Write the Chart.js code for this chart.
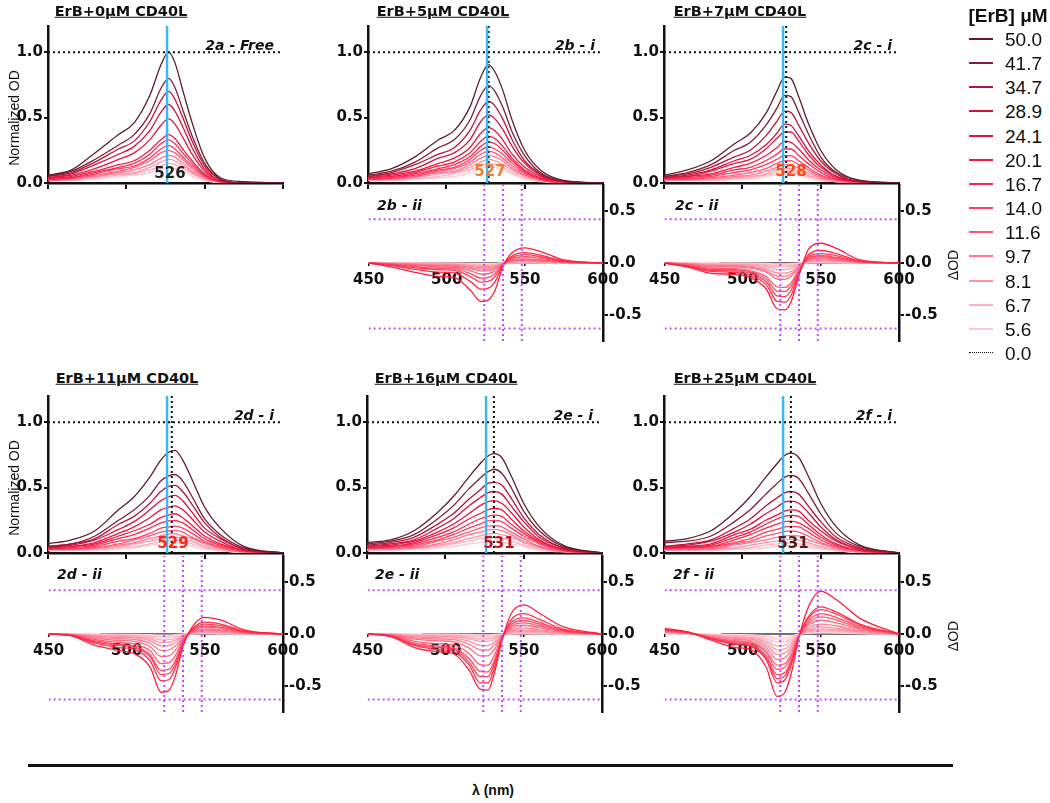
<!DOCTYPE html>
<html><head><meta charset="utf-8">
<script src="https://cdn.jsdelivr.net/npm/chart.js@4.4.0/dist/chart.umd.min.js"></script>
<style>
body{margin:0;background:#fff;}
#root{position:relative;width:1050px;height:803px;overflow:hidden;font-family:"DejaVu Sans",sans-serif;color:#111;}
canvas{position:absolute;}
.t{position:absolute;white-space:nowrap;line-height:1;}
</style></head><body><div id="root"></div>
<script>
// ---------------- DATA ----------------
const wavelengths = [450,465,480,495,505,515,522,527,531,536,542,550,560,575,600];
const concentrations = ['50.0','41.7','34.7','28.9','24.1','20.1','16.7','14.0','11.6','9.7','8.1','6.7','5.6'];
const zeroLabel = '0.0';
const panelTitles = ['ErB+0\u03bcM CD40L','ErB+5\u03bcM CD40L','ErB+7\u03bcM CD40L','ErB+11\u03bcM CD40L','ErB+16\u03bcM CD40L','ErB+25\u03bcM CD40L'];
const panelTags = ['2a - Free','2b - i','2c - i','2d - i','2e - i','2f - i'];
const diffTags = ['2b - ii','2c - ii','2d - ii','2e - ii','2f - ii'];
const freePeak = 526;
const peaks = [526,527,528,529,531,531];
const peakLabels = ['526','527','528','529','531','531'];
const diffMarks = [524,536,548];
const diffLevels = [0.42,-0.63];
const zeroStart = [450,485,483,485,486];
const topYTicks = [0,0.5,1.0];
const diffYTicks = [-0.5,0,0.5];
const xTicks = [450,500,550,600];

const od2a = [
[0.06,0.10,0.23,0.37,0.46,0.67,0.90,1.00,0.92,0.71,0.46,0.19,0.04,0.01,0],
[0.05,0.09,0.18,0.29,0.37,0.53,0.72,0.80,0.73,0.56,0.36,0.15,0.03,0,0],
[0.05,0.08,0.16,0.26,0.32,0.47,0.63,0.70,0.64,0.50,0.32,0.13,0.03,0,0],
[0.04,0.07,0.14,0.22,0.28,0.40,0.54,0.60,0.55,0.43,0.27,0.11,0.02,0,0],
[0.04,0.06,0.11,0.18,0.23,0.33,0.44,0.49,0.45,0.35,0.22,0.09,0.02,0,0],
[0.03,0.05,0.09,0.14,0.17,0.25,0.33,0.37,0.34,0.26,0.17,0.07,0.01,0,0],
[0.03,0.04,0.08,0.12,0.15,0.22,0.30,0.33,0.30,0.23,0.15,0.06,0.01,0,0],
[0.03,0.04,0.07,0.11,0.13,0.19,0.26,0.285,0.26,0.20,0.13,0.05,0.01,0,0],
[0.02,0.03,0.06,0.09,0.12,0.17,0.23,0.25,0.23,0.18,0.11,0.05,0.01,0,0],
[0.02,0.03,0.05,0.08,0.10,0.14,0.19,0.21,0.20,0.15,0.09,0.04,0.01,0,0],
[0.02,0.03,0.05,0.07,0.08,0.12,0.16,0.18,0.17,0.13,0.08,0.03,0.01,0,0],
[0.02,0.02,0.04,0.06,0.07,0.10,0.13,0.15,0.14,0.11,0.07,0.03,0.01,0,0],
[0.02,0.02,0.03,0.05,0.06,0.08,0.11,0.12,0.11,0.09,0.05,0.02,0,0,0]];
const od2b = [
[0.07,0.11,0.20,0.33,0.40,0.58,0.81,0.905,0.85,0.71,0.48,0.25,0.10,0.02,0],
[0.06,0.09,0.16,0.27,0.33,0.48,0.67,0.744,0.70,0.58,0.39,0.21,0.08,0.015,0],
[0.05,0.08,0.14,0.22,0.27,0.40,0.56,0.623,0.59,0.49,0.33,0.17,0.07,0.01,0],
[0.05,0.07,0.11,0.19,0.23,0.33,0.47,0.52,0.49,0.41,0.28,0.15,0.06,0.01,0],
[0.04,0.06,0.09,0.15,0.19,0.27,0.38,0.423,0.40,0.33,0.22,0.12,0.05,0.01,0],
[0.04,0.05,0.08,0.13,0.16,0.23,0.32,0.359,0.34,0.28,0.19,0.10,0.04,0.01,0],
[0.03,0.04,0.07,0.11,0.14,0.20,0.28,0.315,0.30,0.25,0.17,0.09,0.03,0.01,0],
[0.03,0.04,0.06,0.10,0.12,0.18,0.25,0.277,0.26,0.22,0.15,0.08,0.03,0,0],
[0.03,0.03,0.05,0.09,0.11,0.16,0.22,0.244,0.23,0.19,0.13,0.07,0.03,0,0],
[0.03,0.03,0.05,0.08,0.09,0.14,0.19,0.213,0.20,0.17,0.11,0.06,0.02,0,0],
[0.02,0.03,0.04,0.07,0.08,0.12,0.16,0.182,0.17,0.14,0.10,0.05,0.02,0,0],
[0.02,0.02,0.03,0.05,0.07,0.10,0.13,0.149,0.14,0.12,0.08,0.04,0.02,0,0],
[0.02,0.02,0.03,0.04,0.05,0.08,0.11,0.123,0.12,0.10,0.07,0.03,0.01,0,0]];
const od2c = [
[0.06,0.10,0.17,0.30,0.38,0.53,0.70,0.81,0.80,0.66,0.46,0.25,0.10,0.02,0],
[0.05,0.08,0.14,0.25,0.31,0.44,0.57,0.67,0.66,0.54,0.38,0.20,0.08,0.02,0],
[0.05,0.07,0.12,0.20,0.25,0.36,0.47,0.55,0.54,0.44,0.31,0.17,0.07,0.01,0],
[0.04,0.06,0.10,0.17,0.21,0.29,0.38,0.45,0.44,0.36,0.25,0.14,0.05,0.01,0],
[0.04,0.05,0.09,0.15,0.18,0.26,0.34,0.39,0.39,0.32,0.22,0.12,0.05,0.01,0],
[0.04,0.05,0.07,0.12,0.15,0.21,0.27,0.32,0.31,0.26,0.18,0.10,0.04,0.01,0],
[0.03,0.04,0.06,0.10,0.12,0.17,0.22,0.26,0.26,0.21,0.15,0.08,0.03,0.01,0],
[0.03,0.03,0.05,0.08,0.10,0.14,0.18,0.21,0.21,0.17,0.12,0.06,0.03,0,0],
[0.03,0.03,0.04,0.06,0.08,0.11,0.15,0.17,0.17,0.14,0.10,0.05,0.02,0,0],
[0.02,0.03,0.03,0.05,0.06,0.09,0.12,0.14,0.14,0.11,0.08,0.04,0.02,0,0],
[0.02,0.02,0.03,0.04,0.05,0.07,0.10,0.11,0.11,0.09,0.06,0.03,0.01,0,0],
[0.02,0.02,0.02,0.03,0.04,0.06,0.08,0.09,0.09,0.07,0.05,0.03,0.01,0,0],
[0.02,0.02,0.02,0.03,0.03,0.05,0.06,0.07,0.07,0.06,0.04,0.02,0.01,0,0]];
const od2d = [
[0.07,0.10,0.17,0.33,0.43,0.58,0.71,0.77,0.784,0.71,0.56,0.35,0.19,0.05,0],
[0.05,0.07,0.13,0.25,0.33,0.44,0.55,0.59,0.60,0.55,0.43,0.26,0.14,0.04,0],
[0.05,0.07,0.11,0.22,0.28,0.38,0.47,0.51,0.517,0.47,0.37,0.23,0.12,0.03,0],
[0.04,0.06,0.10,0.18,0.24,0.33,0.40,0.43,0.44,0.40,0.31,0.19,0.11,0.03,0],
[0.04,0.05,0.08,0.15,0.20,0.27,0.33,0.35,0.36,0.33,0.26,0.16,0.09,0.02,0],
[0.04,0.05,0.07,0.13,0.17,0.22,0.27,0.29,0.30,0.27,0.21,0.13,0.07,0.02,0],
[0.03,0.04,0.06,0.11,0.14,0.19,0.23,0.245,0.25,0.23,0.18,0.11,0.06,0.02,0],
[0.03,0.03,0.05,0.09,0.11,0.15,0.19,0.20,0.206,0.19,0.15,0.09,0.05,0.01,0],
[0.03,0.03,0.04,0.07,0.10,0.13,0.16,0.17,0.173,0.16,0.12,0.08,0.04,0.01,0],
[0.03,0.03,0.04,0.06,0.08,0.11,0.13,0.145,0.148,0.13,0.11,0.07,0.04,0.01,0],
[0.02,0.03,0.03,0.05,0.07,0.09,0.11,0.12,0.122,0.11,0.09,0.05,0.03,0.01,0],
[0.02,0.02,0.03,0.04,0.05,0.07,0.09,0.095,0.097,0.09,0.07,0.04,0.02,0.01,0],
[0.02,0.02,0.02,0.03,0.04,0.06,0.07,0.075,0.076,0.07,0.05,0.03,0.02,0,0]];
const od2e = [
[0.08,0.10,0.17,0.31,0.43,0.58,0.68,0.74,0.76,0.73,0.59,0.38,0.20,0.06,0],
[0.07,0.09,0.14,0.26,0.36,0.49,0.57,0.62,0.64,0.61,0.50,0.32,0.17,0.05,0],
[0.06,0.08,0.12,0.22,0.30,0.41,0.48,0.53,0.54,0.52,0.42,0.27,0.14,0.04,0],
[0.05,0.07,0.10,0.19,0.26,0.36,0.42,0.46,0.47,0.45,0.36,0.24,0.12,0.04,0],
[0.05,0.06,0.09,0.16,0.22,0.30,0.36,0.39,0.40,0.38,0.31,0.20,0.10,0.03,0],
[0.04,0.05,0.08,0.14,0.19,0.26,0.30,0.33,0.34,0.33,0.26,0.17,0.09,0.03,0],
[0.04,0.05,0.07,0.12,0.16,0.22,0.26,0.28,0.29,0.28,0.22,0.15,0.08,0.02,0],
[0.04,0.04,0.06,0.10,0.14,0.19,0.22,0.245,0.25,0.24,0.19,0.13,0.07,0.02,0],
[0.03,0.04,0.05,0.09,0.12,0.16,0.19,0.205,0.21,0.20,0.16,0.11,0.05,0.02,0],
[0.03,0.03,0.04,0.07,0.10,0.14,0.16,0.175,0.18,0.17,0.14,0.09,0.05,0.01,0],
[0.03,0.03,0.04,0.06,0.08,0.11,0.13,0.145,0.15,0.14,0.12,0.08,0.04,0.01,0],
[0.02,0.03,0.03,0.05,0.07,0.09,0.11,0.117,0.12,0.115,0.09,0.06,0.03,0.01,0],
[0.02,0.02,0.03,0.04,0.05,0.07,0.08,0.088,0.09,0.086,0.07,0.05,0.02,0.01,0]];
const od2f = [
[0.09,0.11,0.17,0.31,0.43,0.58,0.68,0.745,0.763,0.73,0.59,0.38,0.20,0.06,0],
[0.08,0.09,0.13,0.24,0.33,0.45,0.53,0.58,0.593,0.57,0.46,0.30,0.15,0.05,0],
[0.05,0.07,0.10,0.19,0.26,0.36,0.42,0.46,0.47,0.45,0.36,0.24,0.12,0.04,0],
[0.05,0.06,0.09,0.16,0.22,0.30,0.35,0.39,0.397,0.38,0.31,0.20,0.10,0.03,0],
[0.04,0.05,0.07,0.14,0.18,0.25,0.29,0.32,0.33,0.32,0.25,0.17,0.09,0.03,0],
[0.04,0.05,0.06,0.12,0.16,0.22,0.26,0.28,0.288,0.28,0.22,0.14,0.07,0.02,0],
[0.04,0.04,0.05,0.10,0.14,0.19,0.22,0.24,0.244,0.23,0.19,0.12,0.06,0.02,0],
[0.03,0.04,0.05,0.08,0.11,0.16,0.18,0.20,0.204,0.20,0.16,0.10,0.05,0.02,0],
[0.03,0.03,0.04,0.07,0.09,0.13,0.15,0.165,0.168,0.16,0.13,0.08,0.04,0.01,0],
[0.03,0.03,0.03,0.06,0.08,0.10,0.12,0.13,0.135,0.13,0.10,0.07,0.04,0.01,0],
[0.02,0.02,0.03,0.04,0.06,0.08,0.09,0.10,0.104,0.10,0.08,0.05,0.03,0.01,0],
[0.02,0.02,0.02,0.03,0.04,0.06,0.07,0.075,0.076,0.07,0.06,0.04,0.02,0.01,0],
[0.02,0.02,0.02,0.03,0.03,0.04,0.05,0.055,0.056,0.05,0.04,0.03,0.02,0,0]];

const d2b = [
[0,-0.04,-0.09,-0.13,-0.14,-0.26,-0.37,-0.35,-0.26,-0.03,0.10,0.145,0.11,0.03,0],
[0,-0.026,-0.062,-0.088,-0.096,-0.177,-0.252,-0.24,-0.177,-0.02,0.07,0.10,0.075,0.02,0],
[0,-0.019,-0.046,-0.065,-0.07,-0.13,-0.184,-0.175,-0.13,-0.015,0.056,0.08,0.06,0.016,0],
[0,-0.015,-0.036,-0.051,-0.056,-0.102,-0.146,-0.138,-0.102,-0.012,0.042,0.06,0.045,0.012,0],
[0,-0.011,-0.026,-0.037,-0.041,-0.075,-0.107,-0.101,-0.075,-0.009,0.028,0.04,0.03,0.008,0],
[0,-0.008,-0.019,-0.027,-0.03,-0.054,-0.078,-0.074,-0.054,-0.006,0.021,0.03,0.023,0.006,0],
[0,-0.006,-0.014,-0.02,-0.022,-0.041,-0.058,-0.055,-0.041,-0.005,0.018,0.025,0.019,0.005,0],
[0,-0.005,-0.011,-0.015,-0.017,-0.031,-0.044,-0.041,-0.031,-0.004,0.014,0.02,0.015,0.004,0],
[0,-0.004,-0.008,-0.012,-0.013,-0.024,-0.034,-0.032,-0.024,-0.003,0.011,0.015,0.011,0.003,0],
[0,-0.003,-0.006,-0.009,-0.009,-0.017,-0.024,-0.023,-0.017,-0.002,0.007,0.01,0.008,0.002,0],
[0,-0.002,-0.004,-0.005,-0.006,-0.01,-0.015,-0.014,-0.01,-0.001,0.005,0.007,0.005,0.001,0],
[0,-0.001,-0.002,-0.003,-0.004,-0.007,-0.01,-0.009,-0.007,-0.001,0.003,0.004,0.003,0.001,0],
[0,0,-0.001,-0.002,-0.002,-0.003,-0.005,-0.005,-0.003,0,0.001,0.002,0.002,0,0]];
const d2c = [
[0,-0.04,-0.10,-0.11,-0.14,-0.25,-0.44,-0.45,-0.37,-0.12,0.13,0.19,0.14,0.03,0],
[0,-0.033,-0.08,-0.09,-0.12,-0.21,-0.37,-0.377,-0.31,-0.10,0.08,0.12,0.09,0.02,0],
[0,-0.03,-0.07,-0.076,-0.10,-0.18,-0.317,-0.323,-0.26,-0.086,0.06,0.09,0.07,0.015,0],
[0,-0.024,-0.06,-0.064,-0.087,-0.154,-0.27,-0.274,-0.22,-0.073,0.048,0.07,0.053,0.011,0],
[0,-0.02,-0.05,-0.055,-0.074,-0.13,-0.23,-0.235,-0.19,-0.062,0.04,0.06,0.046,0.01,0],
[0,-0.014,-0.034,-0.037,-0.05,-0.088,-0.154,-0.157,-0.128,-0.042,0.034,0.05,0.038,0.008,0],
[0,-0.011,-0.027,-0.03,-0.04,-0.072,-0.125,-0.127,-0.104,-0.034,0.027,0.04,0.03,0.006,0],
[0,-0.009,-0.021,-0.023,-0.031,-0.055,-0.096,-0.098,-0.08,-0.026,0.02,0.03,0.023,0.005,0],
[0,-0.005,-0.013,-0.015,-0.02,-0.035,-0.061,-0.063,-0.051,-0.017,0.014,0.02,0.015,0.003,0],
[0,-0.003,-0.008,-0.009,-0.012,-0.022,-0.038,-0.039,-0.032,-0.01,0.01,0.015,0.011,0.002,0],
[0,-0.002,-0.005,-0.006,-0.008,-0.014,-0.024,-0.025,-0.02,-0.007,0.007,0.01,0.008,0.002,0],
[0,-0.001,-0.003,-0.003,-0.005,-0.008,-0.014,-0.015,-0.012,-0.004,0.003,0.005,0.004,0.001,0],
[0,-0.001,-0.002,-0.002,-0.002,-0.004,-0.008,-0.008,-0.006,-0.002,0.002,0.003,0.002,0,0]];
const d2d = [
[0,-0.02,-0.11,-0.16,-0.19,-0.32,-0.56,-0.54,-0.41,-0.12,0.07,0.16,0.135,0.04,0],
[0,-0.016,-0.087,-0.13,-0.15,-0.26,-0.45,-0.44,-0.33,-0.10,0.05,0.115,0.096,0.03,0],
[0,-0.014,-0.076,-0.11,-0.13,-0.22,-0.39,-0.38,-0.29,-0.084,0.042,0.095,0.08,0.024,0],
[0,-0.012,-0.067,-0.1,-0.117,-0.2,-0.35,-0.34,-0.26,-0.075,0.034,0.076,0.064,0.019,0],
[0,-0.01,-0.055,-0.081,-0.096,-0.162,-0.284,-0.276,-0.21,-0.061,0.03,0.067,0.056,0.017,0],
[0,-0.008,-0.042,-0.062,-0.073,-0.123,-0.216,-0.21,-0.158,-0.046,0.021,0.048,0.04,0.012,0],
[0,-0.006,-0.03,-0.045,-0.053,-0.09,-0.157,-0.152,-0.115,-0.034,0.017,0.038,0.032,0.01,0],
[0,-0.004,-0.022,-0.032,-0.038,-0.065,-0.114,-0.11,-0.084,-0.024,0.013,0.029,0.024,0.007,0],
[0,-0.003,-0.016,-0.024,-0.028,-0.047,-0.082,-0.08,-0.06,-0.018,0.008,0.019,0.016,0.005,0],
[0,-0.002,-0.011,-0.016,-0.019,-0.032,-0.057,-0.055,-0.042,-0.012,0.006,0.014,0.012,0.004,0],
[0,-0.001,-0.007,-0.01,-0.012,-0.02,-0.034,-0.033,-0.025,-0.007,0.004,0.01,0.008,0.002,0],
[0,-0.001,-0.004,-0.006,-0.007,-0.011,-0.02,-0.019,-0.014,-0.004,0.003,0.006,0.005,0.001,0],
[0,0,-0.002,-0.003,-0.003,-0.006,-0.01,-0.01,-0.007,-0.002,0.001,0.003,0.002,0.001,0]];
const d2e = [
[0,-0.026,-0.13,-0.17,-0.19,-0.35,-0.53,-0.54,-0.38,-0.06,0.20,0.28,0.20,0.07,0],
[0,-0.023,-0.11,-0.15,-0.17,-0.30,-0.47,-0.47,-0.33,-0.054,0.14,0.195,0.14,0.048,0],
[0,-0.02,-0.1,-0.13,-0.146,-0.27,-0.41,-0.41,-0.29,-0.047,0.112,0.155,0.112,0.038,0],
[0,-0.017,-0.087,-0.114,-0.13,-0.236,-0.36,-0.365,-0.26,-0.042,0.095,0.13,0.095,0.032,0],
[0,-0.014,-0.071,-0.093,-0.105,-0.19,-0.295,-0.3,-0.21,-0.034,0.077,0.107,0.077,0.026,0],
[0,-0.01,-0.05,-0.066,-0.075,-0.136,-0.21,-0.21,-0.15,-0.024,0.061,0.084,0.061,0.021,0],
[0,-0.007,-0.037,-0.048,-0.054,-0.1,-0.152,-0.154,-0.109,-0.018,0.042,0.058,0.042,0.014,0],
[0,-0.005,-0.027,-0.035,-0.039,-0.072,-0.11,-0.111,-0.079,-0.013,0.028,0.039,0.028,0.01,0],
[0,-0.003,-0.017,-0.022,-0.025,-0.046,-0.07,-0.071,-0.05,-0.008,0.021,0.029,0.021,0.007,0],
[0,-0.002,-0.012,-0.015,-0.017,-0.031,-0.048,-0.048,-0.034,-0.006,0.014,0.019,0.014,0.005,0],
[0,-0.001,-0.007,-0.009,-0.01,-0.019,-0.029,-0.029,-0.02,-0.003,0.008,0.012,0.008,0.003,0],
[0,-0.001,-0.003,-0.005,-0.005,-0.009,-0.014,-0.014,-0.01,-0.002,0.004,0.006,0.004,0.001,0],
[0,0,-0.002,-0.002,-0.003,-0.005,-0.008,-0.008,-0.005,-0.001,0.002,0.003,0.002,0.001,0]];
const d2f = [
[0.055,0.02,-0.06,-0.13,-0.15,-0.32,-0.60,-0.56,-0.38,-0.03,0.26,0.41,0.33,0.15,0],
[0.045,0.015,-0.048,-0.10,-0.12,-0.25,-0.47,-0.44,-0.30,-0.024,0.165,0.26,0.21,0.095,0],
[0.04,0.013,-0.044,-0.092,-0.11,-0.23,-0.43,-0.40,-0.27,-0.022,0.15,0.235,0.19,0.086,0],
[0.035,0.012,-0.04,-0.084,-0.10,-0.21,-0.39,-0.37,-0.25,-0.02,0.124,0.196,0.158,0.072,0],
[0.03,0.01,-0.035,-0.074,-0.088,-0.18,-0.34,-0.32,-0.217,-0.018,0.104,0.165,0.133,0.06,0],
[0.025,0.009,-0.031,-0.065,-0.078,-0.16,-0.30,-0.285,-0.19,-0.016,0.084,0.132,0.107,0.049,0],
[0.02,0.007,-0.025,-0.053,-0.063,-0.13,-0.245,-0.23,-0.155,-0.013,0.06,0.095,0.077,0.035,0],
[0.015,0.006,-0.02,-0.042,-0.05,-0.104,-0.196,-0.184,-0.124,-0.01,0.043,0.069,0.055,0.025,0],
[0.012,0.005,-0.016,-0.033,-0.039,-0.08,-0.152,-0.143,-0.096,-0.008,0.031,0.049,0.04,0.018,0],
[0.01,0.003,-0.012,-0.024,-0.029,-0.06,-0.114,-0.107,-0.072,-0.006,0.025,0.039,0.032,0.014,0],
[0.007,0.002,-0.008,-0.017,-0.02,-0.042,-0.078,-0.074,-0.05,-0.004,0.019,0.029,0.024,0.011,0],
[0.005,0.002,-0.005,-0.01,-0.013,-0.026,-0.049,-0.046,-0.031,-0.003,0.012,0.02,0.016,0.007,0],
[0.003,0.001,-0.003,-0.006,-0.008,-0.016,-0.03,-0.028,-0.019,-0.002,0.006,0.01,0.008,0.004,0]];

const topSeries = [od2a, od2b, od2c, od2d, od2e, od2f];
const diffSeries = [d2b, d2c, d2d, d2e, d2f];

// ---------------- STYLE / LAYOUT ----------------
const topColors = ['#5e1f2c','#7d1f36','#b3173f','#d1143f','#e6163f','#f21a45','#f92a52','#fd3d62','#ff5a78','#ff7690','#ff93a7','#ffafbf','#ffc8d3'];
const diffColors = ['#ff1f3d','#ff2d4a','#ff3c57','#ff4a64','#ff5a72','#ff6a80','#ff7a8e','#ff8a9c','#ff9aaa','#ffaab8','#ffbac6','#ffcad4','#ffd6de'];
const peakColors = ['#222222','#e8803a','#ff4a1a','#ff2418','#c0141e','#5a1a1e'];
const topAreas = [[48,26],[368,26],[664,26],[48,396],[367,396],[664,396]];
const diffAreas = [[368,185],[664,185],[48,556],[367,556],[664,556]];
const AW = 235, TH = 157, DH = 156;
const root = document.getElementById('root');
Chart.defaults.font.family = '"DejaVu Sans", sans-serif';
Chart.defaults.color = '#111';

function addText(txt, x, y, css, anchor){
  const d = document.createElement('div');
  d.className = 't'; d.textContent = txt;
  d.style.left = x + 'px'; d.style.top = y + 'px';
  d.style.cssText += css;
  d.style.transform = anchor || 'translate(-50%,-50%)';
  root.appendChild(d);
  return d;
}
function line(data, color, width, dash){
  return {data, borderColor:color, borderWidth:width, borderDash:dash||[], pointRadius:0, fill:false, tension:0};
}
const baseOpts = {responsive:false, animation:false, events:[], plugins:{legend:{display:false}, tooltip:{enabled:false}}};

function topChart(i){
  const [L,T] = topAreas[i];
  const cv = document.createElement('canvas');
  cv.width = 48 + AW + 10; cv.height = 10 + TH + 17;
  cv.style.left = (L-48)+'px'; cv.style.top = (T-10)+'px';
  root.appendChild(cv);
  const ds = [];
  ds.push(line([{x:xTicks[0],y:1},{x:xTicks[3],y:1}], '#111', 2, [2,3]));
  ds.push(line([{x:freePeak,y:0},{x:freePeak,y:1.2}], '#3cb8ec', 2.5));
  if (peaks[i] !== freePeak) ds.push(line([{x:peaks[i],y:0},{x:peaks[i],y:1.2}], '#111', 2, [2,3]));
  topSeries[i].forEach((row,k)=>{
    ds.push({data: wavelengths.map((x,j)=>({x, y: row[j]})), borderColor: topColors[k], borderWidth:1.3, pointRadius:0, fill:false, cubicInterpolationMode:'monotone'});
  });
  new Chart(cv, {type:'line', data:{datasets:ds}, options:Object.assign({}, baseOpts, {
    layout:{padding:{top:10,right:10,left:0,bottom:0}},
    scales:{
      x:{type:'linear', min:450, max:600, afterBuildTicks:s=>{s.ticks = xTicks.map(v=>({value:v}));},
         ticks:{display:false}, grid:{drawOnChartArea:false, tickLength:6, color:'#111', lineWidth:2},
         border:{color:'#111', width:2.5}, afterFit:s=>{s.height = 17;}},
      y:{type:'linear', min:0, max:1.2, afterBuildTicks:s=>{s.ticks = topYTicks.map(v=>({value:v}));},
         ticks:{callback:v=>Number(v).toFixed(1), font:{size:15, weight:'bold'}, color:'#111', padding:1},
         grid:{drawOnChartArea:false, tickLength:4, color:'#111', lineWidth:2},
         border:{color:'#111', width:2.5}, afterFit:s=>{s.width = 48;}}
    }})});
}

function diffChart(i){
  const [L,T] = diffAreas[i];
  const cv = document.createElement('canvas');
  cv.width = 20 + AW + 46; cv.height = 10 + DH + 10;
  cv.style.left = (L-20)+'px'; cv.style.top = (T-10)+'px';
  root.appendChild(cv);
  const ds = [];
  diffMarks.forEach(m => ds.push(line([{x:m,y:-0.75},{x:m,y:0.75}], '#c44bff', 2, [2,3])));
  diffLevels.forEach(v => ds.push(line([{x:450,y:v},{x:600,y:v}], '#c44bff', 2, [2,3])));
  diffSeries[i].forEach((row,k)=>{
    ds.push({data: wavelengths.map((x,j)=>({x, y: row[j]})), borderColor: diffColors[k], borderWidth:1.3, pointRadius:0, fill:false, cubicInterpolationMode:'monotone'});
  });
  ds.push(line([{x:zeroStart[i],y:0},{x:600,y:0}], '#6e6e6e', 2.2));
  new Chart(cv, {type:'line', data:{datasets:ds}, options:Object.assign({}, baseOpts, {
    layout:{padding:{top:10,right:0,left:20,bottom:10}},
    scales:{
      x:{type:'linear', min:450, max:600, position:{y:0}, afterBuildTicks:s=>{s.ticks = xTicks.map(v=>({value:v}));},
         ticks:{font:{size:15, weight:'bold'}, color:'#111', padding:5, maxRotation:0, autoSkip:false},
         grid:{drawOnChartArea:false, tickLength:3, color:'#111', lineWidth:1.5}, border:{display:false}},
      y:{type:'linear', position:'right', min:-0.75, max:0.75, afterBuildTicks:s=>{s.ticks = diffYTicks.map(v=>({value:v}));},
         ticks:{callback:v=>Number(v).toFixed(1), font:{size:15, weight:'bold'}, color:'#111', padding:1},
         grid:{drawOnChartArea:false, tickLength:5, color:'#111', lineWidth:2},
         border:{color:'#111', width:2.5}, afterFit:s=>{s.width = 46;}}
    }})});
}

for (let i=0;i<6;i++) topChart(i);
for (let i=0;i<5;i++) diffChart(i);

// ---------------- TEXT ----------------
const titlePos = [[121,11],[443,11],[740,11],[127,378],[446,378],[745,378]];
panelTitles.forEach((t,i)=> addText(t, titlePos[i][0], titlePos[i][1], 'font-weight:bold;font-size:14.5px;text-decoration:underline;'));
const tagPos = [[274,45],[595,45],[892,45],[274,415],[593,415],[892,415]];
panelTags.forEach((t,i)=> addText(t, tagPos[i][0], tagPos[i][1], 'font-weight:bold;font-style:italic;font-size:14px;', 'translate(-100%,-50%)'));
const dtagPos = [[377,205],[675,205],[57,574],[375,574],[673,574]];
diffTags.forEach((t,i)=> addText(t, dtagPos[i][0], dtagPos[i][1], 'font-weight:bold;font-style:italic;font-size:14px;', 'translate(0,-50%)'));
const peakPos = [[170,173],[490,171],[791,171],[173,543],[499,543],[793,543]];
peakLabels.forEach((t,i)=> addText(t, peakPos[i][0], peakPos[i][1], 'font-weight:bold;font-size:15px;color:'+peakColors[i]+';'));
[[14,118],[14,488]].forEach(p=> addText('Normalized OD', p[0], p[1], 'font-family:"Liberation Sans",Arial,sans-serif;font-size:14px;', 'translate(-50%,-50%) rotate(-90deg)'));
[[953,265],[953,636]].forEach(p=> addText('\u0394OD', p[0], p[1], 'font-family:"Liberation Sans",Arial,sans-serif;font-size:14px;', 'translate(-50%,-50%) rotate(-90deg)'));

// legend
addText('[ErB] \u03bcM', 1008, 15, 'font-family:"Liberation Sans",Arial,sans-serif;font-weight:bold;font-size:19px;');
const legendItems = concentrations.concat([zeroLabel]);
legendItems.forEach((c,k)=>{
  const y = 39 + k*24.15;
  const ln = document.createElement('div');
  ln.style.cssText = 'position:absolute;left:969px;width:24px;top:'+(y-1)+'px;';
  if (k < concentrations.length) { ln.style.height='2px'; ln.style.background = topColors[k]; }
  else { ln.style.borderTop = '1.5px dotted #111'; }
  root.appendChild(ln);
  addText(c, 1005, y, 'font-family:"Liberation Sans",Arial,sans-serif;font-size:19px;', 'translate(0,-50%)');
});

// bottom axis line and label
const bl = document.createElement('div');
bl.style.cssText = 'position:absolute;left:28px;top:764px;width:925px;height:3px;background:#111;';
root.appendChild(bl);
addText('\u03bb (nm)', 493, 790, 'font-family:"Liberation Sans",Arial,sans-serif;font-weight:bold;font-size:14px;');
</script></body></html>
